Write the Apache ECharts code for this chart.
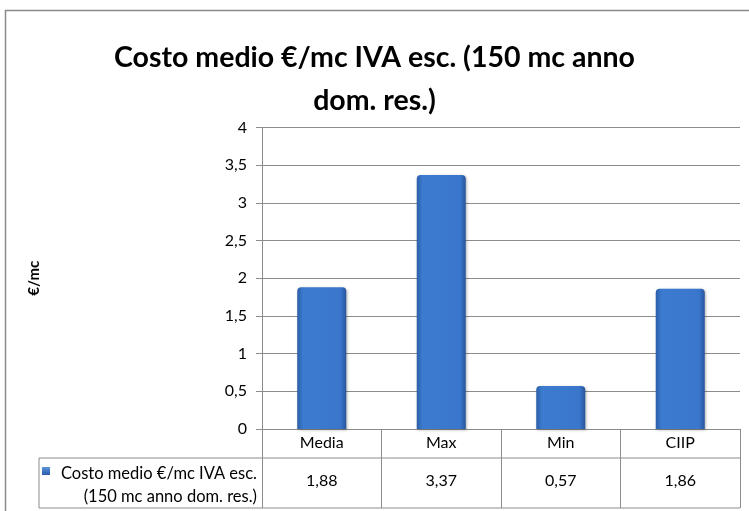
<!DOCTYPE html>
<html>
<head>
<meta charset="utf-8">
<script src="https://cdn.jsdelivr.net/npm/echarts@6/dist/echarts.min.js"></script>
<style>
  html, body { margin: 0; padding: 0; background: #fff; }
  #chart { width: 749px; height: 511px; }
</style>
</head>
<body>
<div id="chart"></div>
<script>
const categories = ['Media', 'Max', 'Min', 'CIIP']
const costValues = [1.88, 3.37, 0.57, 1.86]
const seriesName = 'Costo medio €/mc IVA esc. (150 mc anno dom. res.)'
const seriesLabel = ['Costo medio €/mc IVA esc.', '(150 mc anno dom. res.)']
const titleText = 'Costo medio €/mc IVA esc. (150 mc anno\ndom. res.)'
const yName = '€/mc'

const FONT = 'Lato'
const LINE = '#8c8c8c'
const grid = { left: 262, right: 9, top: 127.5, bottom: 82 }
const W = 749, H = 511
const axisY = H - grid.bottom
const rowTop = axisY + 29
const rowBottom = axisY + 79
const tableLeft = 39

const fmt = (v) => String(v).replace('.', ',')

const chart = echarts.init(document.getElementById('chart'))

chart.setOption({
  backgroundColor: '#fff',
  textStyle: { fontFamily: FONT },
  title: {
    text: titleText,
    left: 'center',
    top: 31,
    textStyle: { fontFamily: FONT, fontWeight: 'bold', fontSize: 28.5, lineHeight: 43, color: '#000' },
  },
  grid: grid,
  xAxis: [
    {
      type: 'category',
      data: categories,
      axisLine: { lineStyle: { color: LINE } },
      axisTick: { show: true, alignWithLabel: false, length: 79, lineStyle: { color: LINE } },
      axisLabel: { color: '#000', fontSize: 16, margin: 6 },
    },
    {
      type: 'category',
      data: costValues.map(fmt),
      position: 'bottom',
      axisLine: { show: false },
      axisTick: { show: false },
      axisLabel: { color: '#000', fontSize: 16, margin: 44 },
    },
  ],
  yAxis: {
    type: 'value',
    min: 0,
    max: 4,
    interval: 0.5,
    name: yName,
    nameLocation: 'middle',
    nameGap: 220,
    nameTextStyle: { fontWeight: 'bold', fontSize: 15, color: '#000' },
    axisLine: { show: true, lineStyle: { color: LINE } },
    axisTick: { show: true, length: 6, lineStyle: { color: LINE } },
    axisLabel: { color: '#000', fontSize: 16, margin: 15, formatter: fmt },
    splitLine: { lineStyle: { color: LINE } },
  },
  series: [
    {
      name: seriesName,
      type: 'bar',
      data: costValues,
      barWidth: 49,
      itemStyle: {
        borderRadius: [4, 4, 0, 0],
        color: new echarts.graphic.LinearGradient(0, 0, 1, 0, [
          { offset: 0, color: '#2b5ea8' },
          { offset: 0.12, color: '#3c7bd0' },
          { offset: 0.88, color: '#3a77cc' },
          { offset: 1, color: '#28569e' },
        ]),
        shadowBlur: 3,
        shadowColor: 'rgba(0,0,0,0.3)',
        shadowOffsetX: 1,
        shadowOffsetY: 1,
      },
    },
  ],
  graphic: [
    {
      type: 'rect',
      shape: { x: 5.5, y: 10.5, width: 800, height: 600 },
      style: { fill: null, stroke: '#8a8a8a', lineWidth: 1.5 },
      silent: true,
    },
    {
      type: 'polyline',
      shape: { points: [[W - grid.right, rowTop], [tableLeft, rowTop], [tableLeft, rowBottom], [W - grid.right, rowBottom]] },
      style: { fill: null, stroke: LINE, lineWidth: 1 },
      silent: true,
    },
    {
      type: 'rect',
      shape: { x: 42, y: rowTop + 9, width: 8, height: 8 },
      style: {
        fill: new echarts.graphic.LinearGradient(0, 0, 0, 1, [
          { offset: 0, color: '#5b95de' },
          { offset: 1, color: '#2a5ca8' },
        ]),
      },
      silent: true,
    },
    {
      type: 'text',
      x: grid.left - 5,
      y: rowTop + 27,
      style: {
        text: seriesLabel.join('\n'),
        font: '16.5px Lato',
        fill: '#000',
        align: 'right',
        verticalAlign: 'middle',
        lineHeight: 23,
      },
      silent: true,
    },
  ],
})
</script>
</body>
</html>
